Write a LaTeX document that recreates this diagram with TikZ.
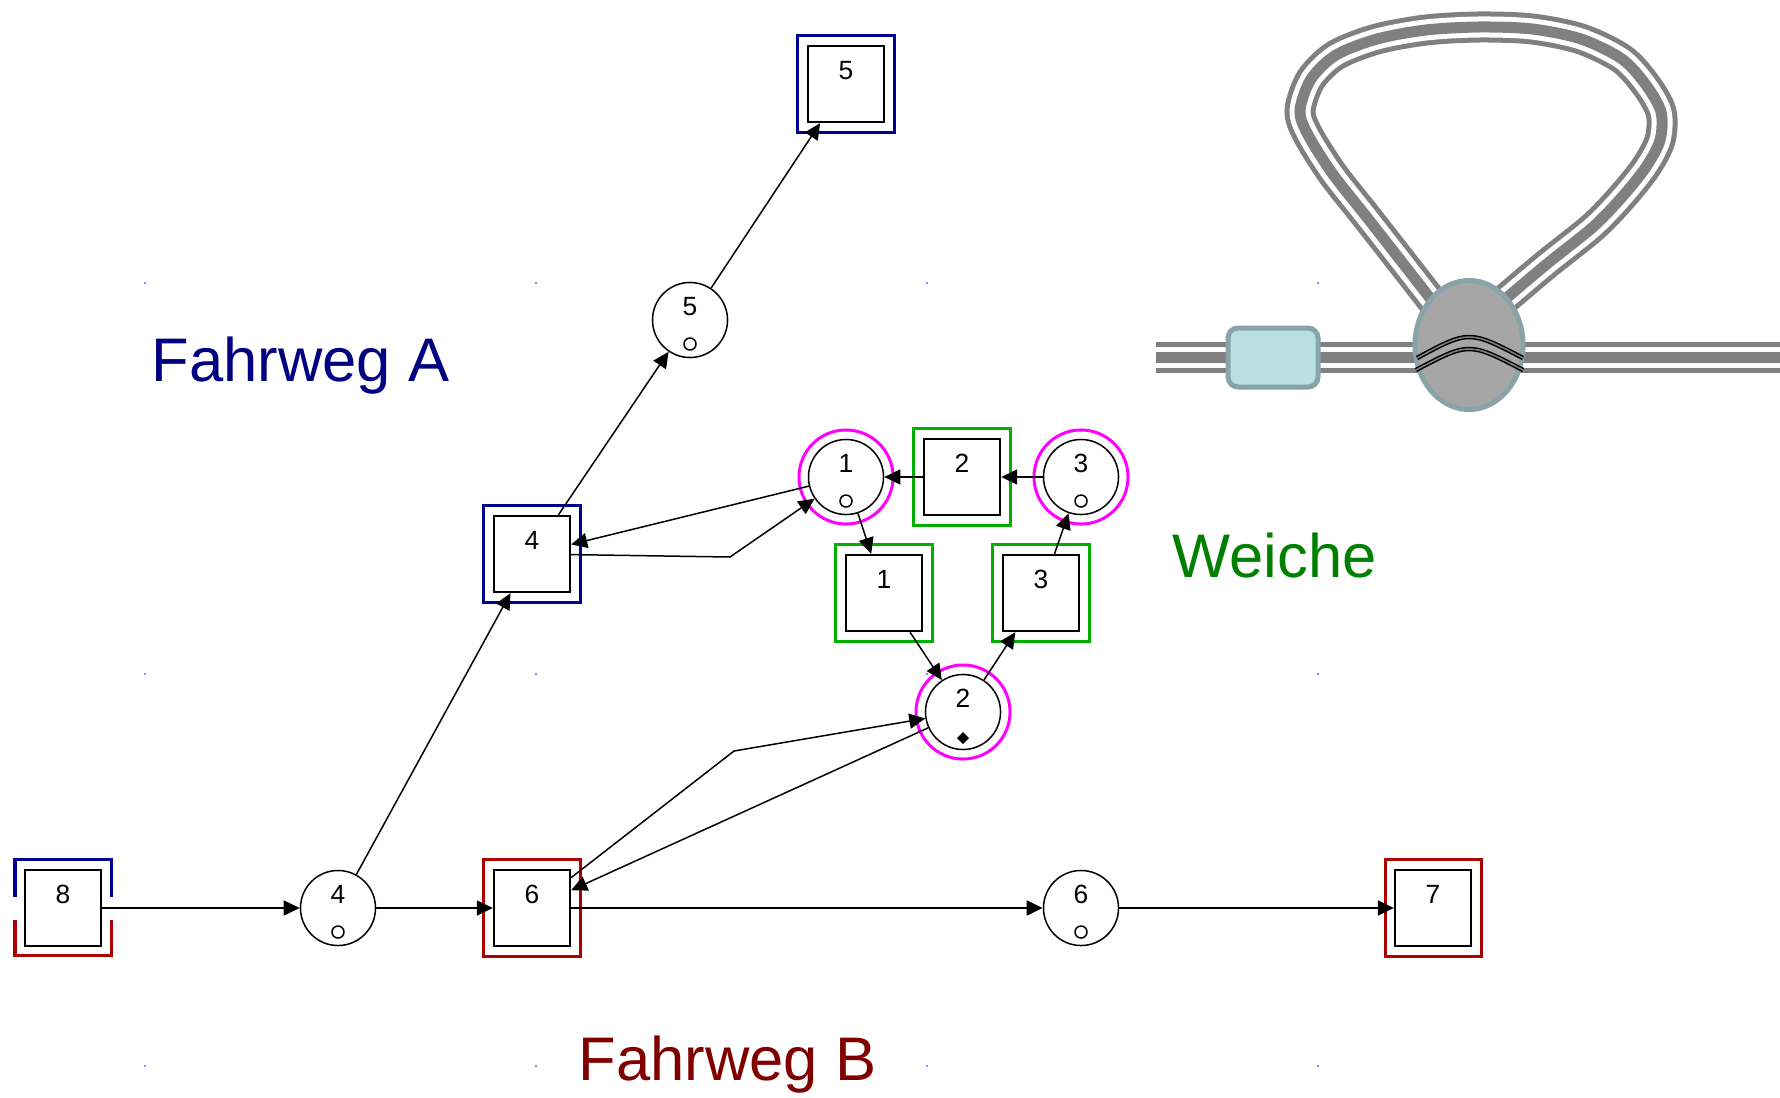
\documentclass[tikz,border=0pt]{standalone}
\usepackage{fontspec}
\setmainfont{Liberation Sans}
\usetikzlibrary{arrows.meta}

\definecolor{routeA}{RGB}{0,0,145}
\definecolor{routeAtext}{RGB}{0,0,128}
\definecolor{routeB}{RGB}{175,0,0}
\definecolor{routeBtext}{RGB}{128,0,0}
\definecolor{switchgreen}{RGB}{0,175,0}
\definecolor{switchtext}{RGB}{0,128,0}
\definecolor{switchpink}{RGB}{255,0,255}
\definecolor{griddot}{RGB}{90,90,255}
\definecolor{trackgray}{RGB}{128,128,128}
\definecolor{knotfill}{RGB}{166,166,166}
\definecolor{knotedge}{RGB}{136,164,168}
\definecolor{blockfill}{RGB}{184,223,226}

\tikzset{
  place/.style={circle, draw, line width=0.015cm, minimum size=0.75cm, inner sep=0pt,
    font=\fontsize{7.5}{7.5}\selectfont, text height=5.4pt, text depth=8pt},
  trans/.style={rectangle, draw, line width=0.018cm, minimum size=0.765cm, inner sep=0pt,
    font=\fontsize{7.5}{7.5}\selectfont, text height=5.4pt, text depth=8pt},
  token/.style={path picture={
    \draw[line width=0.015cm] ([yshift=-0.24cm]path picture bounding box.center)
      circle[radius=0.06cm];}},
  marked/.style={path picture={
    \fill ([yshift=-0.26cm]path picture bounding box.center)
      +(0,0.06cm) -- +(0.06cm,0) -- +(0,-0.06cm) -- +(-0.06cm,0) -- cycle;}},
  frame/.style={rectangle, line width=0.03cm, minimum size=0.96cm, inner sep=0pt},
  ring/.style={circle, draw=switchpink, line width=0.03cm, minimum size=0.94cm, inner sep=0pt},
  flow/.style={draw, line width=0.015cm, -{Triangle[length=0.16cm,width=0.15cm]}},
  route/.style={font=\fontsize{17.5}{20}\selectfont, anchor=base west, inner sep=0pt},
}

\begin{document}
\begin{tikzpicture}[x=0.01cm, y=-0.01cm]
  \useasboundingbox (0,0) rectangle (1780,1097);

  % Faint grid dots of the editor
  \foreach \gx in {145,536,927,1318}
    \foreach \gy in {283,674,1066}
      \fill[griddot] (\gx,\gy) circle[radius=0.012cm];

  % Track picture: straight line, a block and the turning loop
  \foreach \w/\c in {0.31cm/trackgray, 0.21cm/white, 0.11cm/trackgray} {
    \draw[line width=\w, draw=\c] (1156,357.5) -- (1780,357.5);
    \draw[line width=\w, draw=\c] plot[smooth] coordinates {
      (1445,318) (1426,293) (1369,220) (1332,173) (1307,133) (1300,110)
      (1311,79) (1336,55) (1377,39) (1426,30) (1479,27) (1532,29) (1581,39)
      (1622,59) (1646,85) (1661,112) (1660,140) (1646,167) (1622,197)
      (1593,227) (1548,263) (1510,295) (1490,312)};
  }
  \draw[draw=knotedge, fill=blockfill, line width=0.05cm, rounded corners=0.1cm]
    (1228,328) rectangle (1318,387);
  \draw[draw=knotedge, fill=knotfill, line width=0.05cm]
    (1469,345) ellipse[x radius=0.54cm, y radius=0.645cm];
  \draw[line width=0.015cm, double=gray, double distance=0.015cm]
    (1417,358) .. controls (1469,330) .. (1523,358);
  \draw[line width=0.015cm, double=gray, double distance=0.015cm]
    (1416,370) .. controls (1469,342) .. (1523,370);

  % Coloured frames go behind the places and transitions
  \node[frame, draw=routeA] (f5) at (846,84) {};
  \node[frame, draw=routeA] (f4) at (532,554) {};
  \node[frame, draw=routeB] (f6) at (532,908) {};
  \node[frame, draw=routeB] (f7) at (1433,908) {};
  \node[frame, draw=switchgreen] (fw1) at (884,593) {};
  \node[frame, draw=switchgreen] (fw2) at (962,477) {};
  \node[frame, draw=switchgreen] (fw3) at (1041,593) {};
  \node[ring] (r1) at (846,477) {};
  \node[ring] (r2) at (963,712) {};
  \node[ring] (r3) at (1081,477) {};
  % Start transition 8 belongs to both routes
  \draw[routeA, line width=0.03cm] (15,897) -- (15,859.5) -- (111.5,859.5) -- (111.5,897);
  \draw[routeB, line width=0.03cm] (15,920) -- (15,955.5) -- (111.5,955.5) -- (111.5,920);

  % Places and transitions
  \node[trans] (t8) at (63,908) {8};
  \node[place, token] (p4) at (338,908) {4};
  \node[trans] (t6) at (532,908) {6};
  \node[place, token] (p6) at (1081,908) {6};
  \node[trans] (t7) at (1433,908) {7};
  \node[trans] (t4) at (532,554) {4};
  \node[place, token] (p5) at (690,320) {5};
  \node[trans] (t5) at (846,84) {5};
  \node[place, token] (p1) at (846,477) {1};
  \node[trans] (t2) at (962,477) {2};
  \node[place, token] (p3) at (1081,477) {3};
  \node[trans] (t1) at (884,593) {1};
  \node[trans] (t3) at (1041,593) {3};
  \node[place, marked] (p2) at (963,712) {2};
  \coordinate (bendA) at (730,557);
  \coordinate (bendB) at (734,751);

  % Arcs
  \draw[flow] (t8) -- (p4);
  \draw[flow] (p4) -- (t6);
  \draw[flow] (t6) -- (p6);
  \draw[flow] (p6) -- (t7);
  \draw[flow] (p4) -- (t4);
  \draw[flow] (t4) -- (p5);
  \draw[flow] (p5) -- (t5);
  \draw[flow] (p1) -- (t4);
  \draw[flow] (t4) -- (bendA) -- (p1);
  \draw[flow] (p2) -- (t6);
  \draw[flow] (t6) -- (bendB) -- (p2);
  \draw[flow] (p1) -- (t1);
  \draw[flow] (t1) -- (p2);
  \draw[flow] (p2) -- (t3);
  \draw[flow] (t3) -- (p3);
  \draw[flow] (p3) -- (t2);
  \draw[flow] (t2) -- (p1);

  % Route and switch labels
  \node[route, text=routeAtext] (lblA) at (151,381) {Fahrweg A};
  \node[route, text=routeBtext] (lblB) at (578,1080) {Fahrweg B};
  \node[route, text=switchtext] (lblW) at (1172,577) {Weiche};
\end{tikzpicture}
\end{document}
